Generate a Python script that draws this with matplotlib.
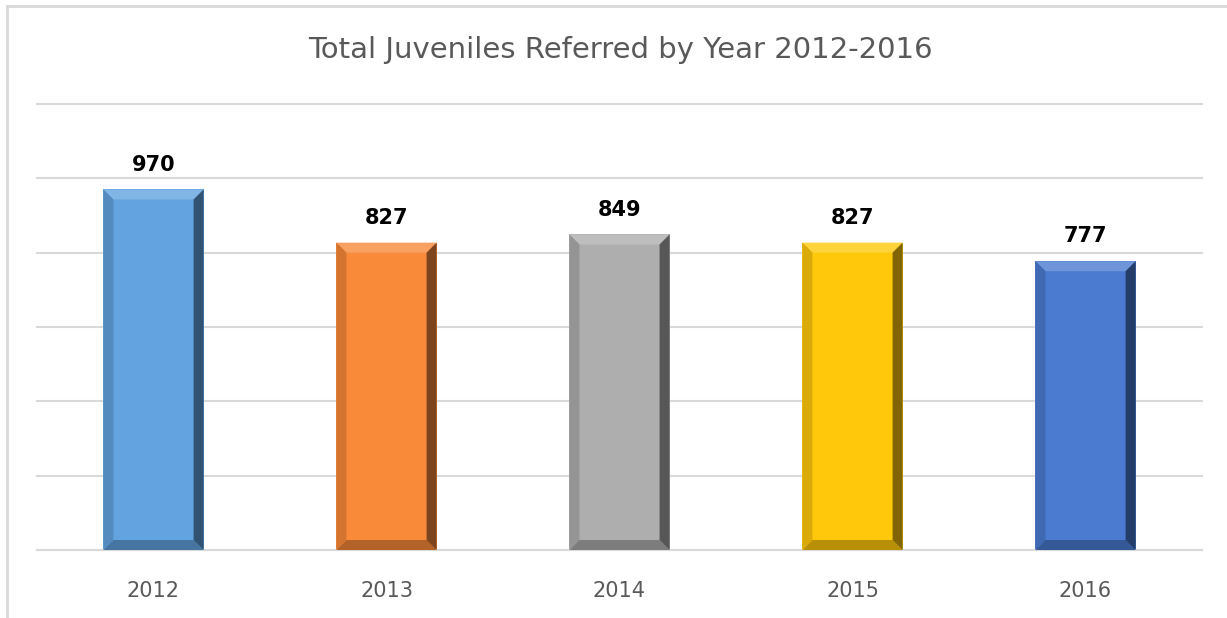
import matplotlib
matplotlib.use("Agg")
import matplotlib.pyplot as plt
from matplotlib.lines import Line2D
from matplotlib.patches import Polygon
import matplotlib.colors as mcolors

years = ["2012", "2013", "2014", "2015", "2016"]
referred = [970, 827, 849, 827, 777]
colors = ["#62A3E0", "#F88A3A", "#AEAEAE", "#FFC80A", "#4A7BD1"]

W, H = 1227, 618
fig = plt.figure(figsize=(W / 100, H / 100), dpi=100)
ax = fig.add_axes([37 / W, 68 / H, 1165 / W, 446 / H])

# chart frame (light gray border, top and left visible)
fig.add_artist(Line2D([7 / W, 7 / W], [0, 1 - 6 / H], color="#D9D9D9", lw=2))
fig.add_artist(Line2D([7 / W, 1], [1 - 6 / H, 1 - 6 / H], color="#D9D9D9", lw=2))

x = list(range(len(years)))
bw = 0.43
ax.bar(x, referred, width=bw, color=colors, zorder=2)

# bevel edges, ~10 px wide
dx = 10 / 1165 * len(years)
dy = 10 / 446 * 1200


def shade(c, f):
    r, g, b = mcolors.to_rgb(c)
    if f > 1:
        return (r + (1 - r) * (f - 1), g + (1 - g) * (f - 1), b + (1 - b) * (f - 1))
    return (r * f, g * f, b * f)


for xi, v, c in zip(x, referred, colors):
    l, r = xi - bw / 2, xi + bw / 2
    faces = [
        ([(l, v), (r, v), (r - dx, v - dy), (l + dx, v - dy)], shade(c, 1.2)),
        ([(l, 0), (r, 0), (r - dx, dy), (l + dx, dy)], shade(c, 0.72)),
        ([(l, 0), (l, v), (l + dx, v - dy), (l + dx, dy)], shade(c, 0.85)),
        ([(r, 0), (r, v), (r - dx, v - dy), (r - dx, dy)], shade(c, 0.5)),
    ]
    for pts, fc in faces:
        ax.add_patch(Polygon(pts, closed=True, facecolor=fc, edgecolor="none", zorder=3))
    ax.text(xi, v + 40, f"{v}", ha="center", va="bottom", fontsize=15,
            fontweight="bold", color="black")

ax.set_xlim(-0.5, len(years) - 0.5)
ax.set_ylim(0, 1200)
ax.set_yticks(range(0, 1201, 200))
ax.yaxis.grid(True, color="#D9D9D9", lw=1.5, zorder=0)
for gl in ax.get_ygridlines():
    gl.set_clip_on(False)
ax.tick_params(axis="y", left=False, labelleft=False)
ax.set_xticks(x)
ax.set_xticklabels(years, fontsize=15, color="#595959")
ax.tick_params(axis="x", length=0, pad=22)
for s in ["top", "right", "left"]:
    ax.spines[s].set_visible(False)
ax.spines["bottom"].set_color("#D9D9D9")
ax.spines["bottom"].set_linewidth(1.5)

fig.text(620 / W, 1 - 50 / H, "Total Juveniles Referred by Year 2012-2016",
         ha="center", va="center", fontsize=21, color="#595959")

fig.savefig("out.png", dpi=100)
